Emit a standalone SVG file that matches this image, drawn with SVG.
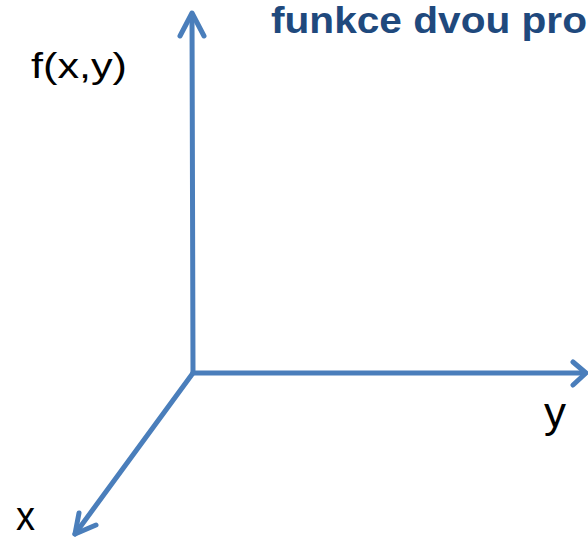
<svg xmlns="http://www.w3.org/2000/svg" width="588" height="539" viewBox="0 0 588 539">
<style>
.axis{fill:none;stroke:#4a7ebb;stroke-width:5;stroke-linecap:round;stroke-linejoin:round}
.lbl{font-family:"Liberation Sans",Arial,sans-serif;fill:#000}
.title{font-family:"Liberation Sans",Arial,sans-serif;font-weight:bold;fill:#1f497d}
</style>
<rect width="588" height="539" fill="#fff"/>
<g id="connectors">
<path class="axis" d="M193,373 L192,14"/>
<path class="axis" d="M180,36 L192,13 L204,36"/>
<path class="axis" d="M193,373 L585,373"/>
<path class="axis" d="M573,362 L586,373 L573,385"/>
<path class="axis" d="M193,373 L75,534"/>
<path class="axis" d="M79,513 L75,534 L96,525"/>
</g>
<g id="title"><text class="title" x="271" y="33" font-size="36" textLength="316" lengthAdjust="spacingAndGlyphs">funkce dvou pro</text></g>
<g id="label-f"><text class="lbl" x="31" y="78" font-size="35" textLength="96" lengthAdjust="spacingAndGlyphs">f(x,y)</text></g>
<g id="label-y"><text class="lbl" x="544" y="427" font-size="42" textLength="22" lengthAdjust="spacingAndGlyphs">y</text></g>
<g id="label-x"><text class="lbl" x="16" y="530" font-size="40" textLength="19" lengthAdjust="spacingAndGlyphs">x</text></g>
</svg>
